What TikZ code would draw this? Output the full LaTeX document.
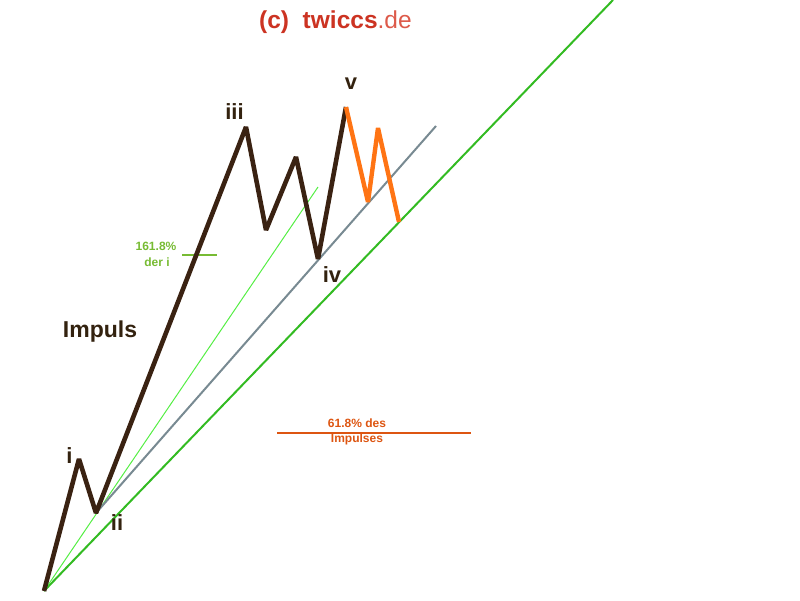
\documentclass[tikz,border=0pt]{standalone}
\usepackage{fontspec}
\setmainfont{Liberation Sans}
\usetikzlibrary{calc, positioning}
\definecolor{wavebrown}{HTML}{3A2212}
\definecolor{labelbrown}{HTML}{33220F}
\definecolor{corrorange}{HTML}{FF7414}
\definecolor{trendgray}{HTML}{788A92}
\definecolor{trendgreen}{HTML}{33BB22}
\definecolor{lightgreen}{HTML}{55EE44}
\definecolor{fibgreen}{HTML}{77BB33}
\definecolor{fiborange}{HTML}{DD5511}
\definecolor{titlered}{HTML}{CC3322}
\definecolor{titlepink}{HTML}{DD5A4A}
\tikzset{>=stealth, font=\bfseries}

\begin{document}
\begin{tikzpicture}[x=1pt,y=-1pt,inner sep=0pt]
\tikzstyle{wave}=[draw=wavebrown,line width=4.6pt,line join=bevel]
\tikzstyle{corr}=[draw=corrorange,line width=4.4pt,line join=bevel]
\tikzstyle{wavelabel}=[text=labelbrown,anchor=base,font=\fontsize{22}{22}\selectfont\bfseries]
\tikzstyle{fiblabel}=[anchor=base,font=\fontsize{12}{12}\selectfont\bfseries]

\useasboundingbox (0,0) rectangle (800,600);

% wave points
\coordinate (O)  at (44,591);
\coordinate (w1) at (79,459);
\coordinate (w2) at (96,513);
\coordinate (w3) at (246,127);
\coordinate (a)  at (266,230);
\coordinate (b)  at (296,157);
\coordinate (w4) at (318,259);
\coordinate (w5) at (346,107);
\coordinate (A)  at (368,202);
\coordinate (B)  at (378,128);
\coordinate (C)  at (399,222);

% trend lines
\coordinate (greenEnd) at (613,0);
\coordinate (lightEnd) at (318,187);
\coordinate (grayEnd)  at (436,126);

\draw [trendgreen,line width=2pt] (O) -- (greenEnd);
\draw [lightgreen,line width=1pt] (O) -- (lightEnd);
\draw [trendgray,line width=2pt] (w2) -- (grayEnd);

% fibonacci marks
\coordinate (f1) at (182,255);
\coordinate (f2) at (217,255);
\draw [fibgreen,line width=2pt] (f1) -- (f2);
\node[fiblabel,text=fibgreen] (fibA) at (156,250) {161.8\%};
\node[fiblabel,text=fibgreen] (fibB) at (157,266) {der i};

\coordinate (g1) at (277,433);
\coordinate (g2) at (471,433);
\draw [fiborange,line width=2pt] (g1) -- (g2);
\node[fiblabel,text=fiborange] (fibC) at (357,427) {61.8\% des};
\node[fiblabel,text=fiborange] (fibD) at (357,442) {Impulses};

% impulse and correction
\draw [wave] (O) -- (w1) -- (w2) -- (w3) -- (a) -- (b) -- (w4) -- (w5);
\draw [corr] (w5) -- (A) -- (B) -- (C);

\node[wavelabel] (li)   at ([shift={(-9.5,4)}]w1)  {i};
\node[wavelabel] (lii)  at ([shift={(21,17)}]w2)   {ii};
\node[wavelabel] (liii) at ([shift={(-11.5,-8)}]w3) {iii};
\node[wavelabel] (liv)  at ([shift={(14,23)}]w4)   {iv};
\node[wavelabel] (lv)   at ([shift={(5,-18)}]w5)   {v};
\node[wavelabel,font=\fontsize{23}{23}\selectfont\bfseries] (imp) at (100,337) {Impuls};

\node[anchor=base west,font=\fontsize{24.5}{24.5}\selectfont\bfseries] (title) at (259,28)
  {\textcolor{titlered}{(c)\ \ twiccs}\textcolor{titlepink}{\mdseries.de}};

\end{tikzpicture}
\end{document}
